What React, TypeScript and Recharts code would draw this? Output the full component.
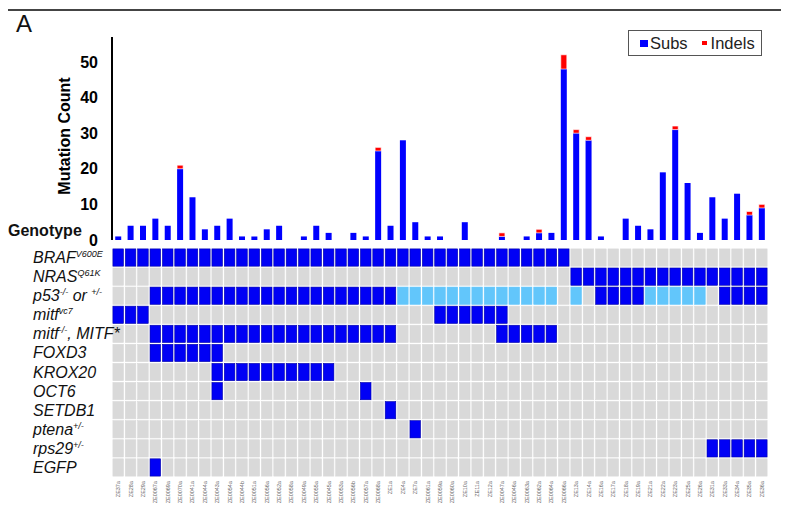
import React from "react";
import { BarChart, Bar, XAxis, YAxis, Legend, ScatterChart, Scatter } from "recharts";

// sample ids, left to right
const samples = [
  "ZE37a", "ZE28a", "ZE29a", "ZE0067a", "ZE0069a", "ZE0070a", "ZE0041a", "ZE0044a", "ZE0043a", "ZE0054a",
  "ZE0044b", "ZE0051a", "ZE0056a", "ZE0052a", "ZE0058a", "ZE0049a", "ZE0055a", "ZE0045a", "ZE0053a", "ZE0056b",
  "ZE0057a", "ZE0068a", "ZE1a", "ZE4a", "ZE7a", "ZE0061a", "ZE0059a", "ZE0060a", "ZE10a", "ZE11a",
  "ZE12a", "ZE0047a", "ZE0046a", "ZE0063a", "ZE0062a", "ZE0064a", "ZE0066a", "ZE13a", "ZE14a", "ZE16a",
  "ZE17a", "ZE18a", "ZE19a", "ZE21a", "ZE22a", "ZE23a", "ZE25a", "ZE26a", "ZE31a", "ZE33a",
  "ZE34a", "ZE35a", "ZE36a",
];

const subs = [
  1, 4, 4, 6, 4, 20, 12, 3, 4, 6,
  1, 1, 3, 4, 0, 1, 4, 2, 0, 2,
  1, 25, 4, 28, 5, 1, 1, 0, 5, 0,
  0, 1, 0, 1, 2, 2, 48, 30, 28, 1,
  0, 6, 4, 3, 19, 31, 16, 2, 12, 6,
  13, 7, 9,
];

const indels = [
  0, 0, 0, 0, 0, 1, 0, 0, 0, 0,
  0, 0, 0, 0, 0, 0, 0, 0, 0, 0,
  0, 1, 0, 0, 0, 0, 0, 0, 0, 0,
  0, 1, 0, 0, 1, 0, 4, 1, 1, 0,
  0, 0, 0, 0, 0, 1, 0, 0, 0, 0,
  0, 1, 1,
];

const yTicks = [0, 10, 20, 30, 40, 50];

// genotype rows, one char per sample: 0 = none, 1 = present, 2 = heterozygous (light)
const braf   = "1111111111 1111111111 1111111111 1111111000 0000000000 000";
const nras   = "0000000000 0000000000 0000000000 0000000111 1111111111 111";
const p53    = "0001111111 1111111111 1112222222 2222220201 1112222201 111";
const mitfVc = "1110000000 0000000000 0000001111 1100000000 0000000000 000";
const mitfKo = "0001111111 1111111111 1110000000 0111110000 0000000000 000";
const foxd3  = "0001111110 0000000000 0000000000 0000000000 0000000000 000";
const krox20 = "0000000011 1111111100 0000000000 0000000000 0000000000 000";
const oct6   = "0000000010 0000000000 1000000000 0000000000 0000000000 000";
const setdb1 = "0000000000 0000000000 0010000000 0000000000 0000000000 000";
const ptena  = "0000000000 0000000000 0000100000 0000000000 0000000000 000";
const rps29  = "0000000000 0000000000 0000000000 0000000000 0000000011 111";
const egfp   = "0001000000 0000000000 0000000000 0000000000 0000000000 000";

const genoRows = [braf, nras, p53, mitfVc, mitfKo, foxd3, krox20, oct6, setdb1, ptena, rps29, egfp];

const barData = samples.map((s, i) => ({ sample: s, subs: subs[i], indels: indels[i] }));

const cells = genoRows.flatMap((row, r) =>
  row.replace(/ /g, "").split("").map((v, c) => ({ x: c, y: r, status: Number(v) }))
);
const grayCells = cells.filter((d) => d.status === 0);
const blueCells = cells.filter((d) => d.status === 1);
const lightCells = cells.filter((d) => d.status === 2);

const FONT = "'Liberation Sans', Arial, Helvetica, sans-serif";
const PLOT_LEFT = 112;
const PLOT_RIGHT = 32;
const GRID_TOP = 248;
const GRID_H = 229;
const CELL_W = (800 - PLOT_LEFT - PLOT_RIGHT) / samples.length;
const CELL_H = GRID_H / genoRows.length;

const makeCell = (fill: string, stroke: string) => (props: any) => {
  const { cx, cy } = props;
  const w = CELL_W - 1.8;
  const h = CELL_H - 1.8;
  return <rect x={cx - w / 2} y={cy - h / 2} width={w} height={h} fill={fill} stroke={stroke} strokeWidth={0.6} />;
};

const SampleTick = (props: any) => {
  const { x, y, payload } = props;
  return (
    <text
      x={x}
      y={y}
      transform={`rotate(-90 ${x} ${y})`}
      textAnchor="end"
      dominantBaseline="central"
      fontSize={5.5}
      fontFamily={FONT}
      fill="#666"
    >
      {samples[payload.value]}
    </text>
  );
};

const LegendBox = () => (
  <div
    style={{
      width: 134,
      height: 26,
      border: "1px solid #555",
      background: "#fff",
      fontFamily: FONT,
      fontSize: 16.5,
      color: "#222",
      display: "flex",
      alignItems: "center",
      boxSizing: "border-box",
      paddingLeft: 11,
    }}
  >
    <span style={{ width: 8, height: 7, background: "#0000ff", display: "inline-block", marginRight: 2 }} />
    <span>Subs</span>
    <span style={{ width: 5, height: 4, background: "#ff0000", display: "inline-block", marginLeft: 14, marginRight: 4 }} />
    <span>Indels</span>
  </div>
);

const rowLabels: [string, string, string, string][] = [
  ["BRAF", "V600E", "", ""],
  ["NRAS", "Q61K", "", ""],
  ["p53", "-/-", " or ", "+/-"],
  ["mitf", "vc7", "", ""],
  ["mitf", "-/-", ", MITF*", ""],
  ["FOXD3", "", "", ""],
  ["KROX20", "", "", ""],
  ["OCT6", "", "", ""],
  ["SETDB1", "", "", ""],
  ["ptena", "+/-", "", ""],
  ["rps29", "+/-", "", ""],
  ["EGFP", "", "", ""],
];

export default function App() {
  return (
    <div style={{ position: "absolute", left: 0, top: 0, width: 800, height: 515, background: "#fff", overflow: "hidden" }}>
      <div style={{ position: "absolute", left: 0, top: 0 }}>
        <BarChart width={800} height={250} data={barData} margin={{ top: 37, right: PLOT_RIGHT, left: 0, bottom: 10 }} barCategoryGap="26%">
          <XAxis
            dataKey="sample"
            interval={0}
            tick={false}
            height={0}
            axisLine={{ stroke: "#000", strokeWidth: 2 }}
            tickLine={{ stroke: "#999" }}
            tickSize={3}
          />
          <YAxis
            width={PLOT_LEFT}
            domain={[0, 57]}
            ticks={yTicks}
            allowDataOverflow
            axisLine={{ stroke: "#000", strokeWidth: 2 }}
            tickLine={false}
            tickMargin={8}
            tick={{ fontSize: 16, fontWeight: "bold", fill: "#000", fontFamily: FONT }}
          />
          <Legend
            verticalAlign="middle"
            align="center"
            content={<LegendBox />}
            wrapperStyle={{ position: "absolute", top: 30, left: 628, width: 134 }}
          />
          <Bar dataKey="subs" name="Subs" stackId="m" fill="#0000ff" isAnimationActive={false} />
          <Bar dataKey="indels" name="Indels" stackId="m" fill="#ff0000" stroke="#fff" strokeWidth={0.6} isAnimationActive={false} />
        </BarChart>
      </div>

      <div style={{ position: "absolute", left: 0, top: GRID_TOP }}>
        <ScatterChart width={800} height={GRID_H + 38} margin={{ top: 0, right: PLOT_RIGHT, left: PLOT_LEFT, bottom: 0 }}>
          <XAxis
            type="number"
            dataKey="x"
            domain={[-0.5, samples.length - 0.5]}
            ticks={samples.map((_, i) => i)}
            interval={0}
            allowDataOverflow
            height={38}
            axisLine={false}
            tickLine={false}
            tickSize={0}
            tickMargin={4}
            tick={<SampleTick />}
          />
          <YAxis type="number" dataKey="y" domain={[-0.5, genoRows.length - 0.5]} reversed hide allowDataOverflow />
          <Scatter data={grayCells} shape={makeCell("#d9d9d9", "#d9d9d9")} isAnimationActive={false} />
          <Scatter data={lightCells} shape={makeCell("#62c6fb", "#62c6fb")} isAnimationActive={false} />
          <Scatter data={blueCells} shape={makeCell("#0000f5", "#0000a8")} isAnimationActive={false} />
        </ScatterChart>
      </div>

      <svg width={800} height={515} style={{ position: "absolute", left: 0, top: 0, pointerEvents: "none" }} fontFamily={FONT}>
        <line x1={8} y1={10} x2={781} y2={10} stroke="#444" strokeWidth={2} />
        <text x={16} y={32} fontSize={24} fill="#111">A</text>
        <text x={64} y={136} fontSize={16} fontWeight="bold" textAnchor="middle" transform="rotate(-90 64 136)" dominantBaseline="central">
          Mutation Count
        </text>
        <text x={8} y={236} fontSize={16} fontWeight="bold" fill="#111">Genotype</text>
        {rowLabels.map(([main, sup1, mid, sup2], r) => {
          const base = GRID_TOP + CELL_H * (r + 0.5) + 5.5;
          return (
            <text key={r} x={33} y={base} fontSize={16} fontStyle="italic" fill="#111">
              {main}
              {sup1 && <tspan fontSize={9} dy={-6}>{sup1}</tspan>}
              {mid && <tspan dy={sup1 ? 6 : 0}>{mid}</tspan>}
              {sup2 && <tspan fontSize={9} dy={-6}>{sup2}</tspan>}
            </text>
          );
        })}
      </svg>
    </div>
  );
}
